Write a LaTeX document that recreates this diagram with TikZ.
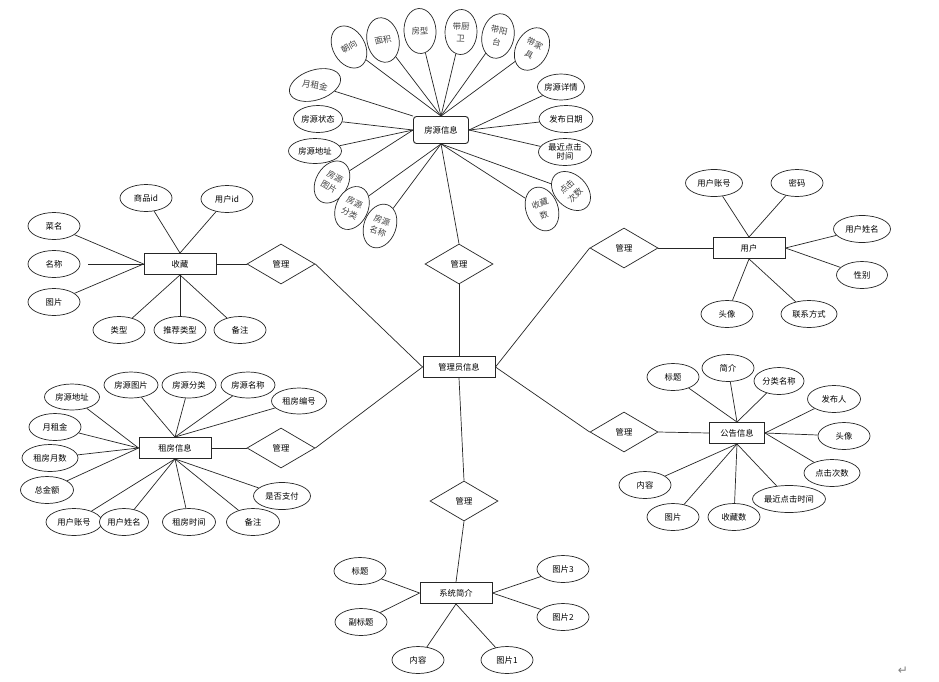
\documentclass[tikz,border=0pt]{standalone}
\usepackage{fontspec}
\usetikzlibrary{shapes.geometric}
\newfontfamily\cjk{Noto Sans CJK SC}
\newfontfamily\djv{DejaVu Sans}
\begin{document}
\begin{tikzpicture}[x=1pt,y=-1pt,
  every node/.style={font=\cjk\fontsize{8.3}{9.5}\selectfont, text=black},
  ent/.style={draw=black!85, line width=0.9pt, fill=white, minimum width=72pt, minimum height=21pt, inner sep=0pt},
  hsbox/.style={draw=black!85, line width=0.9pt, fill=white, rounded corners=3pt, minimum width=55pt, minimum height=27pt, inner sep=0pt},
  attr/.style={draw=black!85, line width=0.7pt, fill=white, ellipse, minimum width=52pt, minimum height=27pt, inner sep=0pt, align=center},
  tattr/.style={draw=black!85, line width=0.7pt, fill=white, ellipse, minimum width=32pt, minimum height=45pt, inner sep=0pt, align=center, font=\cjk\fontsize{8.4}{12}\selectfont, text=black!75},
  rel/.style={draw=black!85, line width=0.7pt, fill=white, diamond, aspect=1.7, minimum width=68pt, minimum height=40pt, inner sep=0pt},
  conn/.style={draw=black!85, line width=0.7pt}
]
\useasboundingbox (0,0) rectangle (939,681);
\fill[white] (0,0) rectangle (939,681);

% ---------- house info ----------
\node[hsbox] (hs) at (441,130) {房源信息};
\node[tattr, rotate=30] (cx) at (349,47) {朝向};
\node[tattr, rotate=12] (mj) at (383,40) {面积};
\node[tattr, rotate=3] (fx) at (420,31) {房型};
\node[tattr, rotate=-2] (dcw) at (461,32) {带厨\\卫};
\node[tattr, rotate=-12] (dyt) at (498,36) {带阳\\台};
\node[tattr, rotate=-28] (djj) at (532,49) {带家\\具};
\node[tattr, minimum width=30pt, minimum height=53pt, rotate=-72] (yzj0) at (315,85) {};
\node[font=\cjk\fontsize{8.6}{10}\selectfont, text=black!75, rotate=-10] (yzjt) at (315,85) {月租金};
\node[attr, minimum width=49pt] (fyzt) at (318,119) {房源状态};
\node[attr, minimum width=53pt, minimum height=25pt] (fydz) at (315,151) {房源地址};
\node[attr, minimum width=47pt, minimum height=26pt] (fyxq) at (561,87) {房源详情};
\node[attr, minimum width=54pt] (fbrq) at (566,119) {发布日期};
\node[attr, minimum width=53pt] (zjdj) at (565,152) {最近点击\\时间};
\node[tattr, rotate=-30] (fytp) at (332,182) {房源\\图片};
\node[tattr, rotate=-25] (fyfl) at (352,208) {房源\\分类};
\node[tattr, rotate=-20] (fymc) at (380,226) {房源\\名称};
\node[tattr, rotate=20] (scs) at (542,209) {收藏\\数};
\node[tattr, rotate=45] (djcs) at (571,191) {点击\\次数};

\foreach \n in {cx,mj,fx,dcw,dyt,djj} \draw[conn] (hs.north) -- (\n);
\draw[conn] (hs.north west) -- (yzj0);
\foreach \n in {fyzt,fydz,fytp} \draw[conn] (hs.west) -- (\n);
\foreach \n in {fyxq,fbrq,zjdj} \draw[conn] (hs.east) -- (\n);
\foreach \n in {fyfl,fymc,scs,djcs} \draw[conn] (hs.south) -- (\n);

% ---------- admin and relations ----------
\node[ent] (gly) at (459,367) {管理员信息};
\node[rel] (dt) at (459,264) {管理};
\node[rel] (d1) at (281,264) {管理};
\node[rel] (d2) at (281,448) {管理};
\node[rel] (d3) at (624,248) {管理};
\node[rel] (d4) at (624,432) {管理};
\node[rel] (d5) at (464,501) {管理};
\draw[conn] (gly.north) -- (dt.south);
\draw[conn] (dt.north) -- (hs.south);
\draw[conn] (gly.west) -- (d1.east);
\draw[conn] (gly.west) -- (d2.east);
\draw[conn] (gly.east) -- (d3.west);
\draw[conn] (gly.east) -- (d4.west);
\draw[conn] (gly.south) -- (d5.north);

% ---------- favourites ----------
\node[ent] (sc) at (180,264) {收藏};
\node[attr] (cm) at (54,226) {菜名};
\node[attr] (mc) at (54,264) {名称};
\node[attr] (tp1) at (54,302) {图片};
\node[attr] (spid) at (146,198) {商品id};
\node[attr] (yhid) at (227,199) {用户id};
\node[attr] (lx) at (119,330) {类型};
\node[attr] (tjlx) at (180,330) {推荐类型};
\node[attr] (bz1) at (240,330) {备注};
\draw[conn] (cm) -- (sc.west);
\draw[conn, shorten <=8pt] (mc) -- (sc.west);
\draw[conn] (tp1) -- (sc.west);
\draw[conn] (spid) -- (sc.north);
\draw[conn] (yhid) -- (sc.north);
\foreach \n in {lx,tjlx,bz1} \draw[conn] (sc.south) -- (\n);
\draw[conn] (sc.east) -- (d1.west);

% ---------- rent info ----------
\node[ent] (zf) at (175,448) {租房信息};
\node[attr, minimum width=55pt, minimum height=26pt] (rfydz) at (72,397) {房源地址};
\node[attr, minimum width=54pt, minimum height=26pt] (rfytp) at (131,385) {房源图片};
\node[attr, minimum width=54pt, minimum height=26pt] (rfyfl) at (189,385) {房源分类};
\node[attr, minimum width=54pt, minimum height=26pt] (rfymc) at (248,385) {房源名称};
\node[attr, minimum width=55pt, minimum height=26pt] (zfbh) at (299,401) {租房编号};
\node[attr] (ryzj) at (55,427) {月租金};
\node[attr, minimum width=56pt] (zfys) at (50,458) {租房月数};
\node[attr, minimum width=53pt] (zje) at (47,490) {总金额};
\node[attr, minimum width=56pt] (ryhzh) at (74,522) {用户账号};
\node[attr, minimum width=49pt] (ryhxm) at (124,522) {用户姓名};
\node[attr, minimum width=53pt] (zfsj) at (189,522) {租房时间};
\node[attr, minimum width=53pt] (bz2) at (253,522) {备注};
\node[attr, minimum width=57pt] (sfzf) at (282,496) {是否支付};
\foreach \n in {rfydz,ryzj,zfys,zje} \draw[conn] (zf.west) -- (\n);
\foreach \n in {rfytp,rfyfl,rfymc,zfbh} \draw[conn] (zf.north) -- (\n);
\foreach \n in {ryhzh,ryhxm,zfsj,bz2,sfzf} \draw[conn] (zf.south) -- (\n);
\draw[conn] (zf.east) -- (d2.west);

% ---------- user ----------
\node[ent] (yh) at (749,248) {用户};
\node[attr, minimum width=57pt] (yhzh) at (714,183) {用户账号};
\node[attr] (mm) at (797,183) {密码};
\node[attr, minimum width=57pt] (yhxm) at (862,229) {用户姓名};
\node[attr, minimum width=51pt] (xb) at (862,275) {性别};
\node[attr] (tx1) at (727,314) {头像};
\node[attr, minimum width=56pt] (lxfs) at (809,314) {联系方式};
\draw[conn] (yh.north) -- (yhzh);
\draw[conn] (yh.north) -- (mm);
\draw[conn] (yh.east) -- (yhxm);
\draw[conn] (yh.east) -- (xb);
\draw[conn] (yh.south) -- (tx1);
\draw[conn] (yh.south) -- (lxfs);
\draw[conn] (d3.east) -- (yh.west);

% ---------- announcement ----------
\node[ent, minimum width=55pt] (gg) at (737,433) {公告信息};
\node[attr] (bt1) at (673,377) {标题};
\node[attr] (jj) at (728,368) {简介};
\node[attr, minimum width=50pt] (flmc) at (779,381) {分类名称};
\node[attr, minimum width=53pt] (fbr) at (834,399) {发布人};
\node[attr] (tx2) at (844,436) {头像};
\node[attr, minimum width=56pt] (gdjcs) at (832,473) {点击次数};
\node[attr, minimum width=73pt] (gzjdj) at (789,499) {最近点击时间};
\node[attr] (nr1) at (645,485) {内容};
\node[attr] (tp2) at (673,517) {图片};
\node[attr] (gscs) at (734,517) {收藏数};
\foreach \n in {bt1,jj,flmc} \draw[conn] (gg.north) -- (\n);
\foreach \n in {fbr,tx2,gdjcs} \draw[conn] (gg.east) -- (\n);
\foreach \n in {gzjdj,nr1,tp2,gscs} \draw[conn] (gg.south) -- (\n);
\draw[conn] (d4.east) -- (gg.west);

% ---------- system intro ----------
\node[ent] (xt) at (456,593) {系统简介};
\node[attr] (bt2) at (360,571) {标题};
\node[attr] (fbt) at (361,622) {副标题};
\node[attr] (nr2) at (418,660) {内容};
\node[attr] (tpa) at (507,660) {图片1};
\node[attr] (tpc) at (563,569) {图片3};
\node[attr] (tpb) at (563,617) {图片2};
\draw[conn] (xt.west) -- (bt2);
\draw[conn] (xt.west) -- (fbt);
\draw[conn] (xt.east) -- (tpc);
\draw[conn] (xt.east) -- (tpb);
\draw[conn] (xt.south) -- (nr2);
\draw[conn] (xt.south) -- (tpa);
\draw[conn] (d5.south) -- (xt.north);

\node[font=\djv\fontsize{12}{12}\selectfont, text=black!50] (ret) at (903,671) {↵};
\end{tikzpicture}
\end{document}
